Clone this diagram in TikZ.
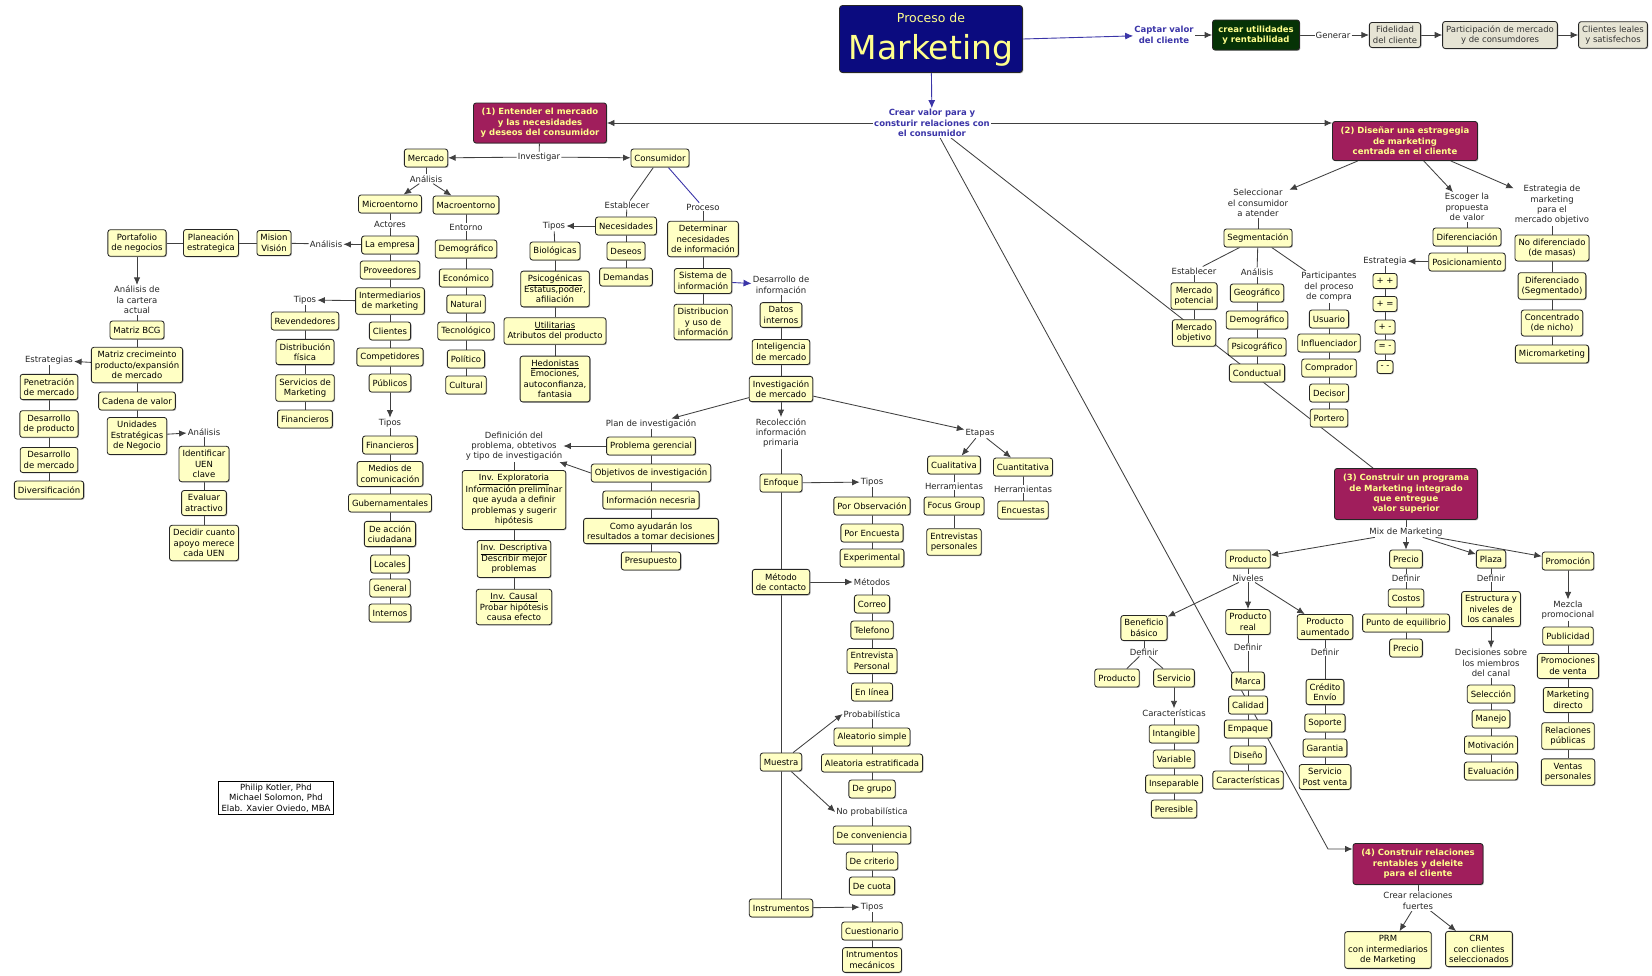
\documentclass[tikz,border=0pt]{standalone}
\usepackage{fontspec}
\setmainfont{DejaVu Sans}
\usetikzlibrary{arrows.meta,shadows}
\definecolor{cy}{HTML}{FFFFC4}
\definecolor{navy}{HTML}{0B0B7F}
\definecolor{mag}{HTML}{A01E5C}
\definecolor{dgreen}{HTML}{063306}
\definecolor{grayb}{HTML}{E6E4D4}
\definecolor{yel}{HTML}{FFFF8C}
\definecolor{blueT}{HTML}{3B35A8}
\pgfdeclarelayer{bg}
\pgfsetlayers{bg,main}
\newcommand\nodefont{\fontsize{8.5}{10.4}\selectfont}
\newcommand\linkchain[1]{\foreach \a/\b in {#1}{\draw[ln] (\a) -- (\b);}}
\tikzset{
  box/.style={draw=black!85, line width=0.85pt, rounded corners=2.5pt, fill=cy, text=black,
    align=center, font=\nodefont, inner xsep=3.5pt, inner ysep=4pt, minimum height=18pt,
    drop shadow={shadow xshift=0.9pt, shadow yshift=-0.9pt, fill=black!45, opacity=0.6}},
  graybox/.style={box, fill=grayb, text=black!80},
  bigbox/.style={box, fill=mag, text=yel, font=\nodefont\bfseries},
  lbl/.style={fill=white, align=center, font=\nodefont, inner sep=1pt, text=black!85},
  blbl/.style={lbl, text=blueT, font=\nodefont\bfseries},
  ttl/.style={text=yel, inner sep=0pt},
  ln/.style={draw=black!75, line width=0.85pt},
  arr/.style={ln, -{Latex[length=7.5pt,width=6.5pt]}},
  bln/.style={draw=blueT, line width=0.9pt},
  barr/.style={bln, -{Latex[length=8pt,width=7pt]}}
}
\begin{document}
\begin{tikzpicture}[x=1pt,y=-1pt]
\path[use as bounding box] (0,0) rectangle (1652,975);

% ---------- title and top row ----------
\node[box, fill=navy, minimum width=183pt, minimum height=67pt, rounded corners=3pt, inner sep=0pt] (mk) at (931,39) {};
\node[ttl, font=\fontsize{12.5}{13}\selectfont] (mkt1) at (931,18) {Proceso de};
\node[ttl, font=\fontsize{33}{34}\selectfont] (mkt2) at (931,50) {Marketing};
\node[blbl] (captar) at (1164,35) {Captar valor\\del cliente};
\node[box, fill=dgreen, text=yel, font=\nodefont\bfseries, minimum width=87pt, minimum height=30pt] (util) at (1256,35) {crear utilidades\\y rentabilidad};
\node[lbl] (gen) at (1333,35) {Generar};
\node[graybox] (fid) at (1395,35) {Fidelidad\\del cliente};
\node[graybox] (part) at (1500,35) {Participación de mercado\\y de consumdores};
\node[graybox] (cli) at (1613,35) {Clientes leales\\y satisfechos};
\node[blbl] (cv) at (932,123) {Crear valor para y\\consturir relaciones con\\el consumidor};

% ---------- the four stages ----------
\node[bigbox, minimum width=133pt, minimum height=40pt] (e1) at (540,123) {(1) Entender el mercado\\y las necesidades\\y deseos del consumidor};
\node[bigbox, minimum width=145pt, minimum height=39pt] (e2) at (1405,141) {(2) Diseñar una estragegia\\de marketing\\centrada en el cliente};
\node[bigbox, minimum width=143pt, minimum height=51pt] (e3) at (1406,494) {(3) Construir un programa\\de Marketing integrado\\que entregue\\valor superior};
\node[bigbox, minimum width=130pt, minimum height=41pt] (e4) at (1418,864) {(4) Construir relaciones\\rentables y deleite\\para el cliente};

% ---------- stage 1: market ----------
\node[lbl] (inv) at (539,157) {Investigar};
\node[box] (merc) at (426,158) {Mercado};
\node[box] (cons) at (660,158) {Consumidor};
\node[lbl] (an1) at (426,179) {Análisis};
\node[box] (micro) at (390,204) {Microentorno};
\node[box] (macro) at (466,205) {Macroentorno};
\node[lbl] (act) at (390,224) {Actores};
\node[box] (emp) at (390,245) {La empresa};
\node[box] (prov) at (390,270) {Proveedores};
\node[box] (interm) at (390,301) {Intermediarios\\de marketing};
\node[box] (clien) at (390,331) {Clientes};
\node[box] (compe) at (390,357) {Competidores};
\node[box] (publ) at (390,383) {Públicos};
\node[lbl] (tip1) at (390,423) {Tipos};
\node[box] (fin1) at (390,445) {Financieros};
\node[box] (medios) at (390,474) {Medios de\\comunicación};
\node[box] (gub) at (390,503) {Gubernamentales};
\node[box] (accion) at (390,534) {De acción\\ciudadana};
\node[box] (loc) at (390,564) {Locales};
\node[box] (genr) at (390,588) {General};
\node[box] (intern) at (390,613) {Internos};

\node[lbl] (an2) at (326,244) {Análisis};
\node[box] (mision) at (274,243) {Mision\\Visión};
\node[box] (plan) at (211,243) {Planeación\\estrategica};
\node[box] (port) at (137,243) {Portafolio\\de negocios};
\node[lbl] (cart) at (137,300) {Análisis de\\la cartera\\actual};
\node[box] (bcg) at (137,330) {Matriz BCG};
\node[box] (mcre) at (137,365) {Matriz crecimeinto\\producto/expansión\\de mercado};
\node[lbl] (estr) at (49,360) {Estrategias};
\node[box] (pen) at (49,387) {Penetración\\de mercado};
\node[box] (dprod) at (49,424) {Desarrollo\\de producto};
\node[box] (dmerc) at (49,460) {Desarrollo\\de mercado};
\node[box] (divers) at (49,490) {Diversificación};
\node[box] (cadena) at (137,401) {Cadena de valor};
\node[box] (uen) at (137,436) {Unidades\\Estratégicas\\de Negocio};
\node[lbl] (an3) at (204,432) {Análisis};
\node[box] (ident) at (204,464) {Identificar\\UEN\\clave};
\node[box] (eval) at (204,503) {Evaluar\\atractivo};
\node[box] (decid) at (204,543) {Decidir cuanto\\apoyo merece\\cada UEN};

\node[lbl] (tip2) at (305,300) {Tipos};
\node[box] (reven) at (305,321) {Revendedores};
\node[box] (distf) at (305,352) {Distribución\\física};
\node[box] (servm) at (305,388) {Servicios de\\Marketing};
\node[box] (fin2) at (305,419) {Financieros};

\node[draw=black, line width=1pt, fill=white, align=center, font=\nodefont, inner xsep=3pt, inner ysep=2pt] (credits) at (276,798)
  {Philip Kotler, Phd\\Michael Solomon, Phd\\Elab. Xavier Oviedo, MBA};

\node[lbl] (ent) at (466,227) {Entorno};
\node[box] (demo1) at (466,249) {Demográfico};
\node[box] (econ) at (466,278) {Económico};
\node[box] (natu) at (466,304) {Natural};
\node[box] (tecn) at (466,331) {Tecnológico};
\node[box] (poli) at (466,359) {Político};
\node[box] (cult) at (466,385) {Cultural};

% ---------- stage 1: consumer ----------
\node[lbl] (estab1) at (627,205) {Establecer};
\node[lbl] (proc) at (703,207) {Proceso};
\node[box] (necs) at (626,226) {Necesidades};
\node[lbl] (tip3) at (554,226) {Tipos};
\node[box] (deseos) at (626,251) {Deseos};
\node[box] (deman) at (626,277) {Demandas};
\node[box] (bio) at (555,251) {Biológicas};
\node[box] (psico) at (555,289) {\underline{Psicogénicas}\\Estatus,poder,\\afiliación};
\node[box] (util2) at (555,331) {\underline{Utilitarias}\\Atributos del producto};
\node[box] (hedon) at (555,379) {\underline{Hedonistas}\\Emociones,\\autoconfianza,\\fantasia};
\node[box] (deter) at (703,239) {Determinar\\necesidades\\de información};
\node[box] (sist) at (703,281) {Sistema de\\información};
\node[box] (distr) at (703,322) {Distribucion\\y uso de\\información};
\node[lbl] (desa) at (781,285) {Desarrollo de\\información};
\node[box] (datos) at (781,315) {Datos\\internos};
\node[box] (intel) at (781,352) {Inteligencia\\de mercado};
\node[box] (invm) at (781,389) {Investigación\\de mercado};
\node[lbl] (planinv) at (651,424) {Plan de investigación};
\node[lbl] (recol) at (781,433) {Recolección\\información\\primaria};
\node[lbl] (etapas) at (980,433) {Etapas};
\node[box] (probg) at (651,446) {Problema gerencial};
\node[lbl] (defin) at (514,446) {Definición del\\problema, obtetivos\\y tipo de investigación};
\node[box] (objet) at (651,473) {Objetivos de investigación};
\node[box] (infon) at (651,500) {Información necesria};
\node[box] (como) at (651,531) {Como ayudarán los\\resultados a tomar decisiones};
\node[box] (presu) at (651,561) {Presupuesto};
\node[box] (explo) at (514,500) {\underline{Inv. Exploratoria}\\Información preliminar\\que ayuda a definir\\problemas y sugerir\\hipótesis};
\node[box] (descr) at (514,559) {\underline{Inv. Descriptiva}\\Describir mejor\\problemas};
\node[box] (causal) at (514,607) {\underline{Inv. Causal}\\Probar hipótesis\\causa efecto};
\node[box] (enfo) at (781,483) {Enfoque};
\node[box] (metc) at (781,582) {Método\\de contacto};
\node[box] (muest) at (781,762) {Muestra};
\node[box] (instr) at (781,908) {Instrumentos};
\node[lbl] (tip4) at (872,482) {Tipos};
\node[box] (porob) at (872,506) {Por Observación};
\node[box] (porenc) at (872,533) {Por Encuesta};
\node[box] (exper) at (872,558) {Experimental};
\node[lbl] (metod) at (872,582) {Métodos};
\node[box] (correo) at (872,604) {Correo};
\node[box] (telef) at (872,630) {Telefono};
\node[box] (entrp) at (872,661) {Entrevista\\Personal};
\node[box] (enlin) at (872,692) {En línea};
\node[lbl] (probab) at (872,714) {Probabilística};
\node[box] (aleas) at (872,737) {Aleatorio simple};
\node[box] (aleae) at (872,763) {Aleatoria estratificada};
\node[box] (grupo) at (872,789) {De grupo};
\node[lbl] (noprob) at (872,812) {No probabilística};
\node[box] (conv) at (872,835) {De conveniencia};
\node[box] (crit) at (872,861) {De criterio};
\node[box] (cuota) at (872,886) {De cuota};
\node[lbl] (tip5) at (872,907) {Tipos};
\node[box] (cuest) at (872,931) {Cuestionario};
\node[box] (imec) at (872,960) {Intrumentos\\mecánicos};
\node[box] (cual) at (954,465) {Cualitativa};
\node[lbl] (herr1) at (954,486) {Herramientas};
\node[box] (focus) at (954,506) {Focus Group};
\node[box] (entrv) at (954,542) {Entrevistas\\personales};
\node[box] (cuan) at (1023,467) {Cuantitativa};
\node[lbl] (herr2) at (1023,489) {Herramientas};
\node[box] (encu) at (1023,510) {Encuestas};

% ---------- stage 2 ----------
\node[lbl] (sel) at (1258,203) {Seleccionar\\el consumidor\\a atender};
\node[lbl] (esc) at (1467,207) {Escoger la\\propuesta\\de valor};
\node[lbl] (estm) at (1552,205) {Estrategia de\\marketing\\para el\\mercado objetivo};
\node[box] (segm) at (1258,238) {Segmentación};
\node[lbl] (estab2) at (1194,271) {Establecer};
\node[box] (mpot) at (1194,296) {Mercado\\potencial};
\node[box] (mobj) at (1194,333) {Mercado\\objetivo};
\node[lbl] (an4) at (1257,272) {Análisis};
\node[box] (geo) at (1257,293) {Geográfico};
\node[box] (demo2) at (1257,320) {Demográfico};
\node[box] (psic) at (1257,347) {Psicográfico};
\node[box] (cond) at (1257,373) {Conductual};
\node[lbl] (partic) at (1329,287) {Participantes\\del proceso\\de compra};
\node[box] (usu) at (1329,319) {Usuario};
\node[box] (influ) at (1329,343) {Influenciador};
\node[box] (compr) at (1329,368) {Comprador};
\node[box] (decis) at (1329,393) {Decisor};
\node[box] (porte) at (1329,418) {Portero};
\node[box] (difer) at (1467,237) {Diferenciación};
\node[box] (posic) at (1467,262) {Posicionamiento};
\node[lbl] (estrg) at (1385,261) {Estrategia};
\node[box, minimum height=15pt, inner ysep=1pt] (s1) at (1385,281) {+ +};
\node[box, minimum height=15pt, inner ysep=1pt] (s2) at (1385,304) {+ =};
\node[box, minimum height=14pt, inner ysep=1pt] (s3) at (1385,327) {+ -};
\node[box, minimum height=14pt, inner ysep=1pt] (s4) at (1385,347) {= -};
\node[box, minimum height=13pt, inner ysep=1pt] (s5) at (1385,367) {- -};
\node[box] (nodif) at (1552,248) {No diferenciado\\(de masas)};
\node[box] (dif) at (1552,286) {Diferenciado\\(Segmentado)};
\node[box] (conc) at (1552,323) {Concentrado\\(de nicho)};
\node[box] (micro2) at (1552,354) {Micromarketing};

% ---------- stage 3 ----------
\node[lbl] (mix) at (1406,532) {Mix de Marketing};
\node[box] (prod) at (1248,559) {Producto};
\node[box] (prec) at (1406,559) {Precio};
\node[box] (plaza) at (1491,559) {Plaza};
\node[box] (promo) at (1568,561) {Promoción};
\node[lbl] (def1) at (1406,578) {Definir};
\node[box] (costos) at (1406,598) {Costos};
\node[box] (pequi) at (1406,623) {Punto de equilibrio};
\node[box] (prec2) at (1406,648) {Precio};
\node[lbl] (def2) at (1491,578) {Definir};
\node[box] (estc) at (1491,609) {Estructura y\\niveles de\\los canales};
\node[lbl] (decs) at (1491,663) {Decisiones sobre\\los miembros\\del canal};
\node[box] (selec) at (1491,694) {Selección};
\node[box] (manejo) at (1491,719) {Manejo};
\node[box] (motiv) at (1491,745) {Motivación};
\node[box] (evalu) at (1491,771) {Evaluación};
\node[lbl] (mezcla) at (1568,610) {Mezcla\\promocional};
\node[box] (publi) at (1568,636) {Publicidad};
\node[box] (promv) at (1568,666) {Promociones\\de venta};
\node[box] (mdir) at (1568,700) {Marketing\\directo};
\node[box] (relp) at (1568,736) {Relaciones\\públicas};
\node[box] (ventp) at (1568,772) {Ventas\\personales};
\node[lbl] (niv) at (1248,578) {Niveles};
\node[box] (benef) at (1144,628) {Beneficio\\básico};
\node[box] (preal) at (1248,622) {Producto\\real};
\node[box] (paum) at (1325,627) {Producto\\aumentado};
\node[lbl] (def3) at (1144,652) {Definir};
\node[box] (prods) at (1117,678) {Producto};
\node[box] (serv) at (1174,678) {Servicio};
\node[lbl] (caract) at (1174,713) {Características};
\node[box] (intang) at (1174,734) {Intangible};
\node[box] (varia) at (1174,759) {Variable};
\node[box] (insep) at (1174,784) {Inseparable};
\node[box] (peres) at (1174,809) {Peresible};
\node[lbl] (def4) at (1248,647) {Definir};
\node[box] (marca) at (1248,681) {Marca};
\node[box] (calid) at (1248,705) {Calidad};
\node[box] (empaq) at (1248,729) {Empaque};
\node[box] (diseno) at (1248,755) {Diseño};
\node[box] (carac2) at (1248,780) {Características};
\node[lbl] (def5) at (1325,652) {Definir};
\node[box] (credi) at (1325,692) {Crédito\\Envío};
\node[box] (sopor) at (1325,723) {Soporte};
\node[box] (garan) at (1325,748) {Garantia};
\node[box] (spost) at (1325,777) {Servicio\\Post venta};

% ---------- stage 4 ----------
\node[lbl] (crel) at (1418,901) {Crear relaciones\\fuertes};
\node[box] (prm) at (1388,950) {PRM\\con intermediarios\\de Marketing};
\node[box] (crm) at (1479,949) {CRM\\con clientes\\seleccionados};

\coordinate (bendA) at (1328,849);

% ---------- connectors ----------
\begin{pgfonlayer}{bg}
\draw[barr] (mk.east) -- (captar);
\draw[barr] (mk) -- (cv);
\draw[arr] (captar) -- (util);
\draw[ln] (util) -- (gen);
\draw[arr] (gen) -- (fid);
\draw[arr] (fid) -- (part);
\draw[arr] (part) -- (cli);

\draw[arr] (cv) -- (e1);
\draw[arr] (cv.east) -- (cv.east -| e2.west);
\draw[ln] (cv) -- (e3);
\draw[arr] (cv) -- (bendA) -- (bendA -| e4.west);

% stage 1
\draw[ln] (e1) -- (inv);
\draw[arr] (inv) -- (merc);
\draw[arr] (inv) -- (cons);
\draw[ln] (merc) -- (an1);
\draw[arr] (an1) -- (micro);
\draw[arr] (an1) -- (macro);
\linkchain{micro/act, act/emp, emp/prov, prov/interm, interm/clien, clien/compe, compe/publ}
\draw[arr] (publ) -- (tip1);
\linkchain{tip1/fin1, fin1/medios, medios/gub, gub/accion, accion/loc, loc/genr, genr/intern}
\draw[arr] (interm) -- (tip2);
\linkchain{tip2/reven, reven/distf, distf/servm, servm/fin2}
\draw[arr] (emp) -- (an2);
\linkchain{an2/mision, mision/plan, plan/port}
\draw[arr] (port) -- (cart);
\linkchain{cart/bcg, bcg/mcre, mcre/cadena, cadena/uen}
\draw[arr] (mcre) -- (estr);
\linkchain{estr/pen, pen/dprod, dprod/dmerc, dmerc/divers}
\draw[arr] (uen) -- (an3);
\linkchain{an3/ident, ident/eval, eval/decid}
\linkchain{macro/ent, ent/demo1, demo1/econ, econ/natu, natu/tecn, tecn/poli, poli/cult}

\linkchain{cons/estab1, estab1/necs, necs/deseos, deseos/deman}
\draw[arr] (necs) -- (tip3);
\linkchain{tip3/bio, bio/psico, psico/util2, util2/hedon}
\draw[bln] (cons) -- (proc);
\linkchain{proc/deter, deter/sist, sist/distr}
\draw[barr] (sist) -- (desa);
\linkchain{desa/datos, datos/intel, intel/invm}
\draw[arr] (invm) -- (planinv);
\linkchain{planinv/probg, probg/objet, objet/infon, infon/como, como/presu}
\draw[arr] (probg) -- (defin);
\draw[arr] (objet.west) -- (defin);
\linkchain{defin/explo, explo/descr, descr/causal}
\draw[arr] (invm) -- (recol);
\linkchain{recol/enfo, enfo/metc, metc/muest, muest/instr}
\draw[arr] (invm) -- (etapas);
\draw[arr] (etapas) -- (cual);
\draw[arr] (etapas) -- (cuan);
\linkchain{cual/herr1, herr1/focus, focus/entrv, cuan/herr2, herr2/encu}
\draw[arr] (enfo) -- (tip4);
\linkchain{tip4/porob, porob/porenc, porenc/exper}
\draw[arr] (metc) -- (metod);
\linkchain{metod/correo, correo/telef, telef/entrp, entrp/enlin}
\draw[arr] (muest) -- (probab.west);
\linkchain{probab/aleas, aleas/aleae, aleae/grupo}
\draw[arr] (muest) -- (noprob.west);
\linkchain{noprob/conv, conv/crit, crit/cuota}
\draw[arr] (instr) -- (tip5);
\linkchain{tip5/cuest, cuest/imec}

% stage 2
\draw[arr] (e2) -- (sel);
\draw[arr] (e2) -- (esc);
\draw[arr] (e2) -- (estm);
\linkchain{sel/segm, segm/estab2, estab2/mpot, mpot/mobj}
\linkchain{segm/an4, an4/geo, geo/demo2, demo2/psic, psic/cond}
\linkchain{segm/partic, partic/usu, usu/influ, influ/compr, compr/decis, decis/porte}
\linkchain{esc/difer, difer/posic}
\draw[arr] (posic) -- (estrg);
\linkchain{estrg/s1, s1/s2, s2/s3, s3/s4, s4/s5}
\linkchain{estm/nodif, nodif/dif, dif/conc, conc/micro2}

% stage 3
\draw[ln] (e3) -- (mix);
\draw[arr] (mix) -- (prod);
\draw[arr] (mix) -- (prec);
\draw[arr] (mix) -- (plaza);
\draw[arr] (mix) -- (promo);
\linkchain{prec/def1, def1/costos, costos/pequi, pequi/prec2}
\linkchain{plaza/def2, def2/estc}
\draw[arr] (estc) -- (decs);
\linkchain{decs/selec, selec/manejo, manejo/motiv, motiv/evalu}
\draw[arr] (promo) -- (mezcla);
\linkchain{mezcla/publi, publi/promv, promv/mdir, mdir/relp, relp/ventp}
\draw[ln] (prod) -- (niv);
\draw[arr] (niv) -- (benef);
\draw[arr] (niv) -- (preal);
\draw[arr] (niv) -- (paum);
\linkchain{benef/def3, def3/prods, def3/serv}
\draw[arr] (serv) -- (caract);
\linkchain{caract/intang, intang/varia, varia/insep, insep/peres}
\linkchain{preal/def4, def4/marca, marca/calid, calid/empaq, empaq/diseno, diseno/carac2}
\linkchain{paum/def5, def5/credi, credi/sopor, sopor/garan, garan/spost}

% stage 4
\draw[ln] (e4) -- (crel);
\draw[arr] (crel) -- (prm);
\draw[arr] (crel) -- (crm);
\end{pgfonlayer}
\end{tikzpicture}
\end{document}
